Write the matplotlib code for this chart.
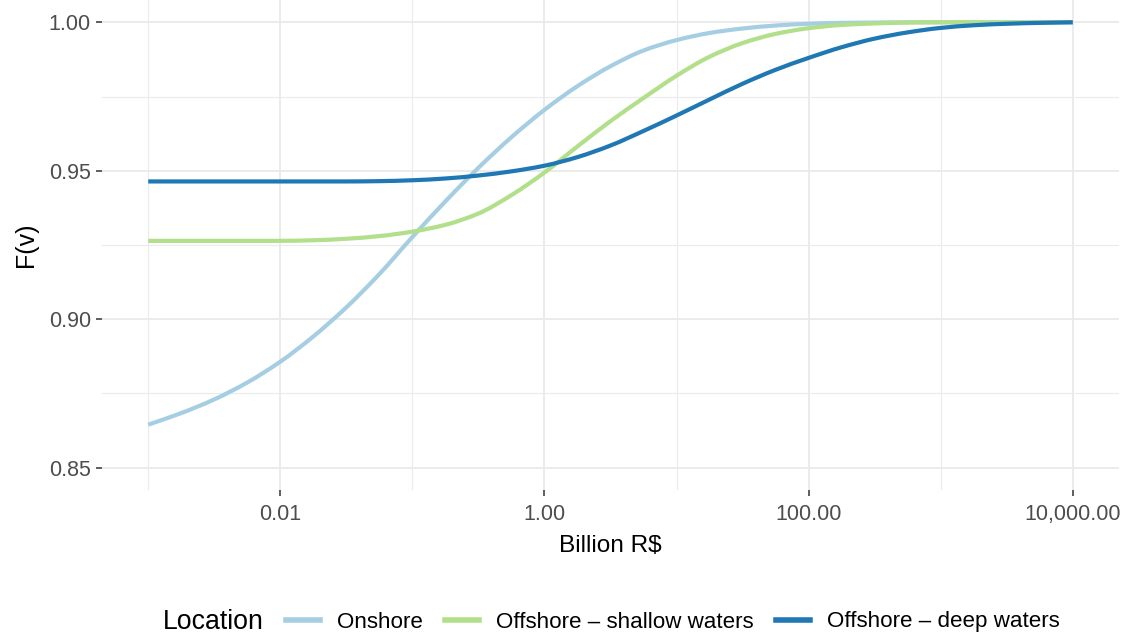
import numpy as np
import matplotlib
matplotlib.use('Agg')
import matplotlib.pyplot as plt
from matplotlib.lines import Line2D
from matplotlib.path import Path
from matplotlib.patches import PathPatch
from matplotlib.ticker import NullFormatter

# values, at quarter-decade steps of log10(Billion R$)
log_value = [-3.0, -2.75, -2.5, -2.25, -2.0, -1.75, -1.5, -1.25, -1.0, -0.75,
             -0.5, -0.25, 0.0, 0.25, 0.5, 0.75, 1.0, 1.25, 1.5, 1.75,
             2.0, 2.25, 2.5, 2.75, 3.0, 3.25, 3.5, 3.75, 4.0]

onshore = [0.8645, 0.8684, 0.8730, 0.8787, 0.8857, 0.8942, 0.9040, 0.9152, 0.9277, 0.9397,
           0.9510, 0.9613, 0.9705, 0.9785, 0.9852, 0.9905, 0.9940, 0.9964, 0.9979, 0.9989,
           0.9995, 0.9998, 0.9999, 1.0, 1.0, 1.0, 1.0, 1.0, 1.0]

shallow = [0.9264, 0.9264, 0.9264, 0.9264, 0.9264, 0.9266, 0.9271, 0.9280, 0.9295, 0.9318,
           0.9356, 0.9418, 0.9494, 0.9582, 0.9667, 0.9745, 0.9820, 0.9884, 0.9930, 0.9961,
           0.9980, 0.9991, 0.9996, 0.9999, 1.0, 1.0, 1.0, 1.0, 1.0]

deep = [0.9464, 0.9464, 0.9464, 0.9464, 0.9464, 0.9464, 0.9464, 0.9465, 0.9468, 0.9474,
        0.9484, 0.9498, 0.9517, 0.9546, 0.9585, 0.9634, 0.9686, 0.9740, 0.9793, 0.9840,
        0.9880, 0.9916, 0.9945, 0.9966, 0.9981, 0.9990, 0.9995, 0.9998, 1.0]

series_names = ['Onshore', 'Offshore \u2013 shallow waters', 'Offshore \u2013 deep waters']
series_colors = ['#A6CEE3', '#B2DF8A', '#1F78B4']

x_major = [0.01, 1, 100, 10000]
x_labels = ['0.01', '1.00', '100.00', '10,000.00']
x_minor = [0.001, 0.1, 10, 1000]
y_major = [0.85, 0.90, 0.95, 1.00]
y_labels = ['0.85', '0.90', '0.95', '1.00']
y_minor = [0.875, 0.925, 0.975]


def smooth_path(lx, y):
    """Monotone cubic Bezier path through the read points (x in log10 units)."""
    lx = np.asarray(lx, float)
    y = np.asarray(y, float)
    h = np.diff(lx)
    d = np.diff(y) / h
    m = np.zeros_like(y)
    m[0], m[-1] = d[0], d[-1]
    for k in range(1, len(y) - 1):
        if d[k - 1] * d[k] > 0:
            m[k] = 2.0 / (1.0 / d[k - 1] + 1.0 / d[k])
    verts = [(10 ** lx[0], y[0])]
    codes = [Path.MOVETO]
    for k in range(len(y) - 1):
        verts += [(10 ** (lx[k] + h[k] / 3), y[k] + m[k] * h[k] / 3),
                  (10 ** (lx[k + 1] - h[k] / 3), y[k + 1] - m[k + 1] * h[k] / 3),
                  (10 ** lx[k + 1], y[k + 1])]
        codes += [Path.CURVE4] * 3
    return Path(verts, codes)


plt.rcParams['font.family'] = ['Liberation Sans', 'DejaVu Sans']

W, H = 1135, 639
fig = plt.figure(figsize=(W / 100, H / 100), dpi=100)
ax = fig.add_axes([102 / W, 1 - 490 / H, (1119 - 102) / W, 490 / H])

ax.set_xscale('log')
ax.set_xlim(10 ** -3.35, 10 ** 4.35)
ax.set_ylim(0.8425, 1.0075)

for vals, col in zip([onshore, shallow, deep], series_colors):
    ax.add_patch(PathPatch(smooth_path(log_value, vals), facecolor='none',
                           edgecolor=col, lw=3.0, capstyle='butt'))

ax.set_xticks(x_major)
ax.set_xticklabels(x_labels)
ax.set_xticks(x_minor, minor=True)
ax.xaxis.set_minor_formatter(NullFormatter())
ax.set_yticks(y_major)
ax.set_yticklabels(y_labels)
ax.set_yticks(y_minor, minor=True)
ax.yaxis.set_minor_formatter(NullFormatter())

ax.grid(which='major', color='#EBEBEB', lw=1.4)
ax.grid(which='minor', color='#EBEBEB', lw=0.8)
ax.set_axisbelow(True)
for s in ax.spines.values():
    s.set_visible(False)

ax.tick_params(which='major', length=4, width=1.1, color='#333333',
               labelcolor='#4D4D4D', labelsize=15.5)
ax.tick_params(axis='x', which='major', pad=6)
ax.tick_params(axis='y', which='major', pad=4)
ax.tick_params(which='minor', length=0)

ax.set_xlabel('Billion R$', fontsize=17.6, color='black', labelpad=7)
ax.set_ylabel('F(v)', fontsize=18, color='black', labelpad=8)

# legend at the bottom, title on the left as in ggplot
fig.text(163 / W, 1 - 622 / H, 'Location', fontsize=19.2, va='center', ha='left')
handles = [Line2D([], [], color=c, lw=4) for c in series_colors]
fig.legend(handles, series_names, loc='center left', bbox_to_anchor=(286 / W, 1 - 622 / H),
           ncol=3, frameon=False, fontsize=16.1, handlelength=1.52, handletextpad=0.74,
           columnspacing=1.02, borderpad=0, borderaxespad=0)

fig.savefig('out.png', dpi=100)
